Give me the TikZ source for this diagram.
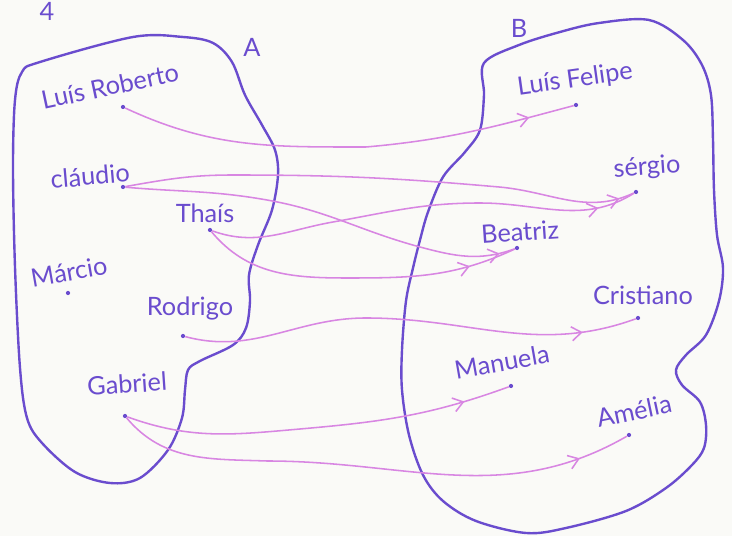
\documentclass[tikz,border=0pt]{standalone}
\usepackage{fontspec}
\setmainfont{Lato}
\usetikzlibrary{arrows.meta,decorations.markings}
\definecolor{penblue}{RGB}{106,76,206}
\definecolor{penpink}{RGB}{216,134,226}
\definecolor{paper}{RGB}{250,250,247}
\tikzset{
    setline/.style={draw=penblue, line width=1.7pt, line cap=round, line join=round},
    person/.style={text=penblue, font=\fontsize{18}{22}\selectfont, inner sep=0pt},
    elem/.style={circle, fill=penblue, inner sep=0pt, minimum size=3pt},
    link/.style={draw=penpink, line width=1.1pt, postaction={decorate},
        decoration={markings,
            mark=at position #1 with {\arrow{Straight Barb[length=7pt,width=10pt]}}}}
}
\begin{document}
\begin{tikzpicture}[x=0.025cm,y=-0.025cm]
    \fill[paper] (0,0) rectangle (732,536);
    \useasboundingbox (0,0) rectangle (732,536);
    \draw[setline]
        plot[smooth cycle, tension=0.55] coordinates {
            (40,62) (133,37) (183,37) (213,43) (232,62) (245,95) (262,125)
            (275,150) (278,175) (272,210) (258,245) (249,275) (250,301)
            (246,328) (233,345) (200,361) (188,370) (185,390) (182,418)
            (168,450) (140,478) (110,483) (75,472) (42,443) (27,418)
            (20,368) (15,267) (13,167) (15,100) (22,72)};
    \draw[setline]
        plot[smooth cycle, tension=0.55] coordinates {
            (484,63) (519,45) (560,32) (599,23) (649,20) (683,40) (702,65)
            (711,95) (713,140) (714,190) (717,235) (723,268) (719,301)
            (706,335) (686,355) (676,370) (682,385) (700,402) (706,425)
            (704,448) (692,465) (666,488) (626,511) (566,528) (526,533)
            (476,521) (443,501) (423,475) (409,435) (402,390) (402,350)
            (406,301) (413,268) (420,240) (428,212) (443,177) (465,152)
            (480,130) (484,95)};
    \node[person] (num) at (47,11) {4};
    \node[person] (setA) at (252,47) {A};
    \node[person] (setB) at (519,28) {B};
    \node[elem] (lr) at (123,107) {};
    \node[elem] (cl) at (123,187) {};
    \node[elem] (th) at (210,230) {};
    \node[elem] (mc) at (68,293) {};
    \node[elem] (rd) at (183,336) {};
    \node[elem] (gb) at (125,416) {};
    \node[elem] (lf) at (576,105) {};
    \node[elem] (sg) at (636,192) {};
    \node[elem] (bz) at (517,248) {};
    \node[elem] (cr) at (638,318) {};
    \node[elem] (mn) at (511,386) {};
    \node[elem] (am) at (629,435) {};
    \node[person, rotate=12] (lr-t) at (110,86) {Luís Roberto};
    \node[person, rotate=5] (cl-t) at (90,176) {cláudio};
    \node[person] (th-t) at (205,213) {Thaís};
    \node[person, rotate=10] (mc-t) at (69,272) {Márcio};
    \node[person] (rd-t) at (190,308) {Rodrigo};
    \node[person, rotate=4] (gb-t) at (127,384) {Gabriel};
    \node[person, rotate=8] (lf-t) at (575,80) {Luís Felipe};
    \node[person, rotate=4] (sg-t) at (647,168) {sérgio};
    \node[person, rotate=4] (bz-t) at (520,232) {Beatriz};
    \node[person] (cr-t) at (643,295) {Cristiano};
    \node[person, rotate=10] (mn-t) at (502,362) {Manuela};
    \node[person, rotate=12] (am-t) at (634,411) {Amélia};
    \draw[link=0.9]
        (lr) to[out=-25,in=180] (366,147) to[out=5,in=195] (lf);
    \draw[link=0.97]
        (cl) to[out=10,in=180] (233,175) to[out=0,in=175] (499,187)
        to[out=-5,in=205] (sg);
    \draw[link=0.96]
        (cl) to[out=-5,in=170] (267,200) to[out=-10,in=165] (420,247)
        to[out=-15,in=200] (bz);
    \draw[link=0.91]
        (th) to[out=-20,in=190] (333,222) to[out=10,in=180] (480,203)
        to[out=0,in=212] (sg);
    \draw[link=0.85]
        (th) to[out=-50,in=180] (347,278) to[out=0,in=205] (bz);
    \draw[link=0.88]
        (rd) to[out=-15,in=180] (366,318) to[out=0,in=200] (cr);
    \draw[link=0.88]
        (gb) to[out=-20,in=185] (300,429) to[out=5,in=200] (mn);
    \draw[link=0.9]
        (gb) to[out=-50,in=178] (267,461) to[out=0,in=210] (am);
\end{tikzpicture}
\end{document}
